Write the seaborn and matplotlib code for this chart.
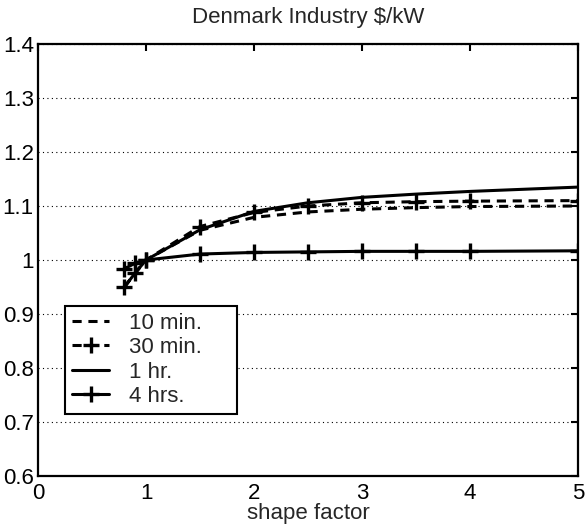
import matplotlib
matplotlib.use("Agg")
import matplotlib.pyplot as plt
import seaborn as sns
import pandas as pd

# Relative cost vs. shape factor for different storage durations
shape_factor = [0.8, 0.9, 1.0, 1.5, 2.0, 2.5, 3.0, 3.5, 4.0, 5.0]
cost_10min = [0.950, 0.976, 1.000, 1.055, 1.079, 1.089, 1.094, 1.097, 1.099, 1.100]
cost_30min = [0.950, 0.976, 1.000, 1.062, 1.088, 1.100, 1.106, 1.108, 1.109, 1.110]
cost_1hr = [0.950, 0.976, 1.000, 1.056, 1.090, 1.106, 1.116, 1.122, 1.127, 1.135]
cost_4hrs = [0.984, 0.994, 1.000, 1.011, 1.014, 1.015, 1.016, 1.016, 1.016, 1.017]

series_labels = ["10 min.", "30 min.", "1 hr.", "4 hrs."]
x_ticks = [0, 1, 2, 3, 4, 5]
y_ticks = [0.6, 0.7, 0.8, 0.9, 1.0, 1.1, 1.2, 1.3, 1.4]
y_ticklabels = ["0.6", "0.7", "0.8", "0.9", "1", "1.1", "1.2", "1.3", "1.4"]

sns.set_style("white")
plt.rcParams["font.family"] = ["Liberation Sans", "DejaVu Sans"]

FS = 16

styles = [
    dict(linestyle=(0, (3, 2.2)), marker=None),
    dict(linestyle=(0, (3, 2.2)), marker="+"),
    dict(linestyle="-", marker=None),
    dict(linestyle="-", marker="+"),
]

fig = plt.figure(figsize=(5.88, 5.24), dpi=100)
ax = fig.add_axes([38 / 588, 1 - 476 / 524, 540 / 588, 432 / 524])

for label, values, st in zip(series_labels, [cost_10min, cost_30min, cost_1hr, cost_4hrs], styles):
    df = pd.DataFrame({"shape factor": shape_factor, "cost": values})
    sns.lineplot(data=df, x="shape factor", y="cost", ax=ax, color="black",
                 linewidth=2.2, linestyle=st["linestyle"], marker=st["marker"],
                 markersize=12, markeredgewidth=2.4, markeredgecolor="black",
                 label=label)

ax.set_xlim(0, 5)
ax.set_ylim(0.6, 1.4)
ax.set_xticks(x_ticks)
ax.set_xticklabels([str(t) for t in x_ticks])
ax.set_yticks(y_ticks)
ax.set_yticklabels(y_ticklabels)
ax.tick_params(direction="in", length=5, width=1.5, top=True, right=True,
               labelsize=FS, colors="black")
ax.tick_params(axis="x", pad=5)
ax.tick_params(axis="y", pad=3)
ax.yaxis.grid(True, linestyle=(0, (1, 3)), color="black", linewidth=0.8)
ax.xaxis.grid(False)
for sp in ax.spines.values():
    sp.set_linewidth(1.6)
    sp.set_color("black")

ax.set_title(r"Denmark Industry \$/kW", fontsize=FS, pad=15)
ax.set_xlabel("shape factor", fontsize=FS, labelpad=-1)
ax.set_ylabel("")

# Legend box with a fixed width (wider than its contents)
leg = ax.legend(loc="lower left", bbox_to_anchor=(27 / 540, 62 / 432, 172 / 540, 0.1),
                mode="expand", fontsize=FS,
                frameon=True, fancybox=False, edgecolor="black", framealpha=1,
                handlelength=1.67, handletextpad=0.9, borderpad=0.32, labelspacing=0.15,
                borderaxespad=0)
leg.get_frame().set_linewidth(1.5)

fig.savefig("out.png", dpi=100)
